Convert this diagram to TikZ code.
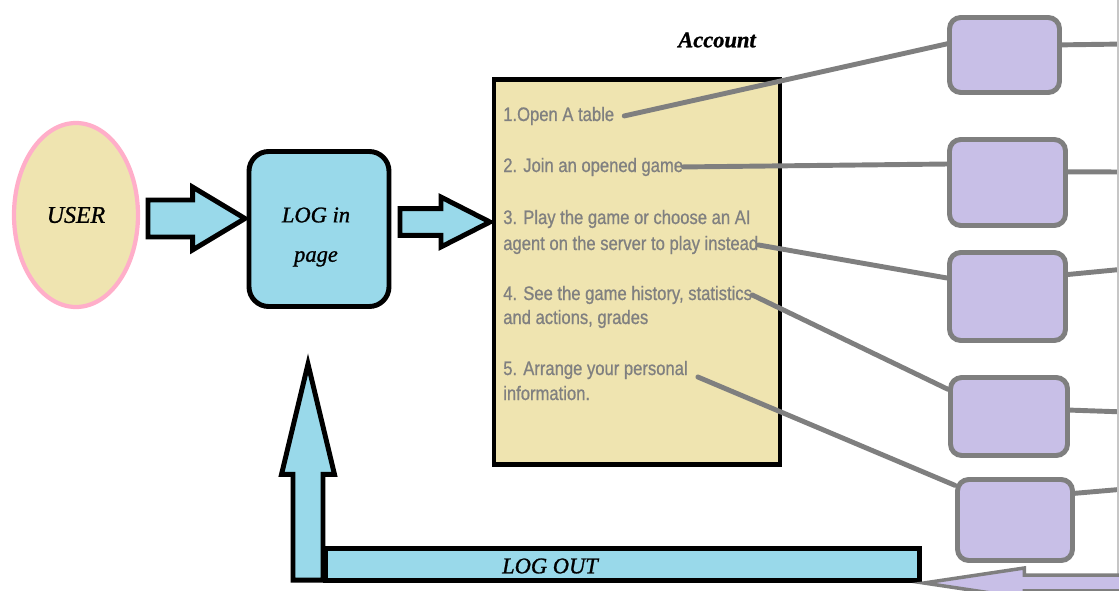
\documentclass[tikz,border=0pt]{standalone}
\usepackage{fontspec}
\usetikzlibrary{shapes.geometric}
\usetikzlibrary{shapes.arrows}

\newfontfamily\menufont[FakeStretch=0.85, FakeBold=0.8]{Liberation Sans}
\newfontfamily\handfont[FakeBold=1]{Liberation Serif}
\newcommand{\pxu}{0.025cm}

\definecolor{skyblue}{RGB}{153,217,234}
\definecolor{sand}{RGB}{239,228,176}
\definecolor{rosepink}{RGB}{255,174,201}
\definecolor{lilac}{RGB}{200,191,231}
\definecolor{linkgray}{RGB}{127,127,127}
\definecolor{menugray}{RGB}{128,128,128}

\tikzset{
  blockarrow/.style={single arrow, draw=black, fill=skyblue, line width=3.5pt},
  hand/.style={font=\handfont\itshape\fontsize{16}{28}\selectfont, text=black},
  menuline/.style={anchor=base west, inner sep=0pt, text=menugray, font=\menufont\fontsize{13.9}{16}\selectfont},
  option/.style={draw=linkgray, fill=lilac, line width=3.5pt, rounded corners=8pt},
  link/.style={draw=linkgray, line width=3.5pt, line cap=round}
}

\begin{document}
\begin{tikzpicture}[x=\pxu, y=-\pxu]
\useasboundingbox (0,0) rectangle (1119,591);

\node[ellipse, draw=rosepink, fill=sand, line width=3pt, minimum width=124*\pxu, minimum height=184*\pxu, hand, font=\handfont\itshape\fontsize{17}{18}\selectfont] (user) at (76,215) {USER};

\node[blockarrow, anchor=tail, inner sep=11.4pt, minimum height=97*\pxu, minimum width=58*\pxu, single arrow head extend=9.2pt, single arrow tip angle=62] (arr1) at (145.5,218.5) {};

\node[draw, line width=3.5pt, fill=skyblue, rounded corners=14pt, minimum width=140*\pxu, minimum height=155*\pxu] (login) at (319,229) {};
\node[hand, align=center] (logintext) at (316,237) {LOG in\\page};

\node[blockarrow, anchor=tail, inner sep=7.8pt, minimum height=90*\pxu, minimum width=45*\pxu, single arrow head extend=8.2pt, single arrow tip angle=54] (arr2) at (397.5,222) {};

%---------------------------------------------------------------------------------------------------
\node[draw, line width=3.5pt, fill=sand, minimum width=286*\pxu, minimum height=385*\pxu] (account) at (637,272) {};
\node[font=\handfont\bfseries\itshape\fontsize{16}{18}\selectfont] (title) at (717,40) {Account};

\node[menuline] (i1) at (503,121) {1.Open A table};
\node[menuline] (i2) at (503,172) {2. Join an opened game};
\node[menuline] (i3a) at (503,224) {3. Play the game or choose an AI};
\node[menuline] (i3b) at (503,250) {agent on the server to play instead};
\node[menuline] (i4a) at (503,300) {4. See the game history, statistics};
\node[menuline] (i4b) at (503,324) {and actions, grades};
\node[menuline] (i5a) at (503,375) {5. Arrange your personal};
\node[menuline] (i5b) at (503,400) {information.};

%---------------------------------------------------------------------------------------------------
\node[option, minimum width=110*\pxu, minimum height=75*\pxu] (b1) at (1004.5,55) {};
\node[option, minimum width=116*\pxu, minimum height=86*\pxu] (b2) at (1007.5,182.5) {};
\node[option, minimum width=116*\pxu, minimum height=88*\pxu] (b3) at (1007.5,296.5) {};
\node[option, minimum width=117*\pxu, minimum height=78*\pxu] (b4) at (1009,416.5) {};
\node[option, minimum width=115*\pxu, minimum height=81*\pxu] (b5) at (1015,520) {};

\draw[link] ([xshift=7pt]i1.east) -- (b1.169);
\draw[link] (i2.east) -- (b2.163);
\draw[link] (i3b.east) -- (b3.163);
\draw[link] (i4a.east) -- (b4.156);
\draw[link] ([xshift=7pt,yshift=-5pt]i5a.east) -- (b5.150);

\coordinate (r1) at (1125,44);
\coordinate (r2) at (1125,172);
\coordinate (r3) at (1125,269);
\coordinate (r4) at (1125,412);
\coordinate (r5) at (1125,489);
\draw[link] (b1.10) -- (r1);
\draw[link] (b2.10) -- (r2);
\draw[link] (b3.20) -- (r3);
\draw[link] (b4.6) -- (r4);
\draw[link] (b5.24) -- (r5);

\draw[gray!45, line width=0.8pt] (1118,0) -- (1118,577);

%---------------------------------------------------------------------------------------------------
\node[draw, line width=3.5pt, fill=skyblue, inner sep=0pt, minimum width=594*\pxu, minimum height=32*\pxu] (logout) at (622.5,564.5) {};
\node[hand] (logouttext) at (550,566) {LOG OUT};

\node[blockarrow, shape border rotate=90, anchor=tail, inner sep=8.9pt, minimum height=216*\pxu, minimum width=48*\pxu, single arrow head extend=8.2pt, single arrow tip angle=27] (back) at (308,582.5) {};

\node[single arrow, shape border rotate=180, draw=linkgray, fill=lilac, line width=2.5pt, inner sep=4.4pt, anchor=tip, minimum height=230*\pxu, minimum width=30*\pxu, single arrow head extend=5pt, single arrow tip angle=17] (exit) at (912,583) {};

\end{tikzpicture}
\end{document}
